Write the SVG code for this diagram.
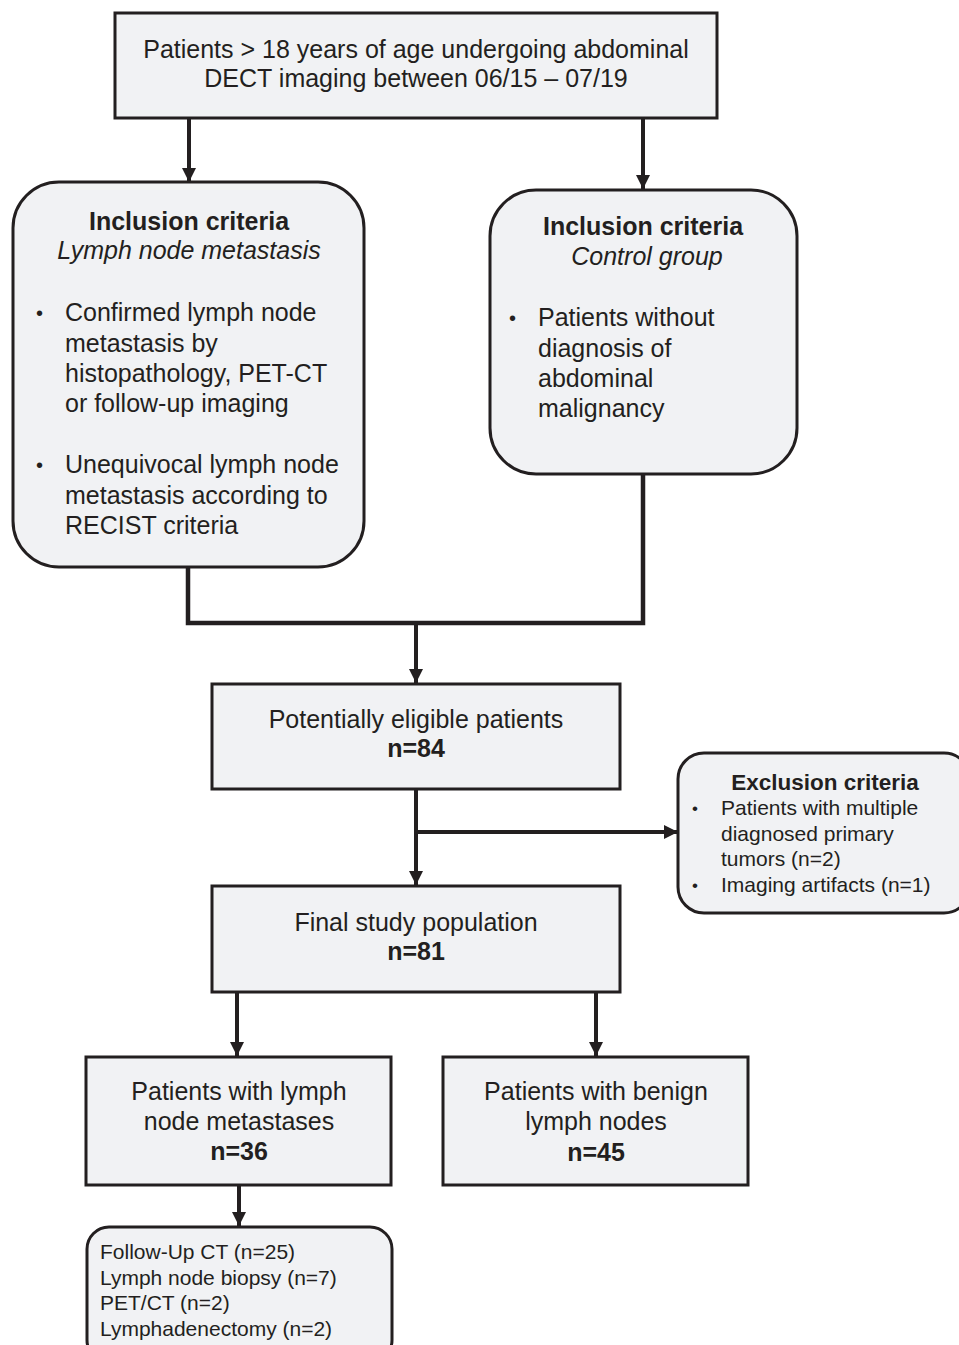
<svg xmlns="http://www.w3.org/2000/svg" width="959" height="1345" viewBox="0 0 959 1345">
<defs>
<marker id="ah" markerUnits="userSpaceOnUse" markerWidth="14" markerHeight="16" viewBox="0 0 14 16" refX="14" refY="8" orient="auto">
<path d="M0,1 L14,8 L0,15 z" fill="#231f20"/>
</marker>
<style>
.box{fill:#f1f2f4;stroke:#231f20;stroke-width:3}
.t{font-family:"Liberation Sans",Arial,sans-serif;font-size:25px;fill:#231f20}
.s{font-family:"Liberation Sans",Arial,sans-serif;font-size:21px;fill:#231f20}
.c{text-anchor:middle}
.b{font-weight:bold}
.i{font-style:italic}
.bu{font-size:20px}
.bs{font-size:17px}
.ln{fill:none;stroke:#231f20;stroke-width:4}
</style>
</defs>
<rect width="959" height="1345" fill="#ffffff"/>
<g id="connectors">
<line class="ln" x1="189" y1="118" x2="189" y2="182" marker-end="url(#ah)"/>
<line class="ln" x1="643" y1="118" x2="643" y2="189" marker-end="url(#ah)"/>
<polyline class="ln" points="188,567 188,623 643,623 643,474" style="stroke-width:4.5"/>
<line class="ln" x1="416" y1="623" x2="416" y2="683" marker-end="url(#ah)"/>
<line class="ln" x1="416" y1="789" x2="416" y2="885" marker-end="url(#ah)"/>
<line class="ln" x1="416" y1="832" x2="678" y2="832" marker-end="url(#ah)"/>
<line class="ln" x1="237" y1="992" x2="237" y2="1056" marker-end="url(#ah)"/>
<line class="ln" x1="596" y1="992" x2="596" y2="1056" marker-end="url(#ah)"/>
<line class="ln" x1="239" y1="1185" x2="239" y2="1226" marker-end="url(#ah)"/>
</g>
<g id="n-start">
<rect class="box" x="115" y="13" width="602" height="105"/>
<text class="t c" x="416" y="58">Patients &gt; 18 years of age undergoing abdominal</text>
<text class="t c" x="416" y="87">DECT imaging between 06/15 – 07/19</text>
</g>
<g id="n-incl-lnm">
<rect class="box" x="13" y="182" width="351" height="385" rx="46"/>
<text class="t c b" x="189" y="230">Inclusion criteria</text>
<text class="t c i" x="189" y="259">Lymph node metastasis</text>
<text class="t bu" x="36" y="320">•</text>
<text class="t" x="65" y="321">Confirmed lymph node</text>
<text class="t" x="65" y="352">metastasis by</text>
<text class="t" x="65" y="382">histopathology, PET-CT</text>
<text class="t" x="65" y="412">or follow-up imaging</text>
<text class="t bu" x="36" y="472">•</text>
<text class="t" x="65" y="473">Unequivocal lymph node</text>
<text class="t" x="65" y="504">metastasis according to</text>
<text class="t" x="65" y="534">RECIST criteria</text>
</g>
<g id="n-incl-ctrl">
<rect class="box" x="490" y="190" width="307" height="284" rx="46"/>
<text class="t c b" x="643" y="235">Inclusion criteria</text>
<text class="t c i" x="647" y="265">Control group</text>
<text class="t bu" x="509" y="325">•</text>
<text class="t" x="538" y="326">Patients without</text>
<text class="t" x="538" y="357">diagnosis of</text>
<text class="t" x="538" y="387">abdominal</text>
<text class="t" x="538" y="417">malignancy</text>
</g>
<g id="n-eligible">
<rect class="box" x="212" y="684" width="408" height="105"/>
<text class="t c" x="416" y="728">Potentially eligible patients</text>
<text class="t c b" x="416" y="757">n=84</text>
</g>
<g id="n-excl">
<rect class="box" x="678" y="753" width="292" height="160" rx="26"/>
<text class="t c b" x="825" y="790" style="font-size:22.5px">Exclusion criteria</text>
<text class="s bs" x="692" y="814">•</text>
<text class="s" x="721" y="815">Patients with multiple</text>
<text class="s" x="721" y="841">diagnosed primary</text>
<text class="s" x="721" y="866">tumors (n=2)</text>
<text class="s bs" x="692" y="891">•</text>
<text class="s" x="721" y="892">Imaging artifacts (n=1)</text>
</g>
<g id="n-final">
<rect class="box" x="212" y="886" width="408" height="106"/>
<text class="t c" x="416" y="931">Final study population</text>
<text class="t c b" x="416" y="960">n=81</text>
</g>
<g id="n-metastases">
<rect class="box" x="86" y="1057" width="305" height="128"/>
<text class="t c" x="239" y="1100">Patients with lymph</text>
<text class="t c" x="239" y="1130">node metastases</text>
<text class="t c b" x="239" y="1160">n=36</text>
</g>
<g id="n-benign">
<rect class="box" x="443" y="1057" width="305" height="128"/>
<text class="t c" x="596" y="1100">Patients with benign</text>
<text class="t c" x="596" y="1130">lymph nodes</text>
<text class="t c b" x="596" y="1161">n=45</text>
</g>
<g id="n-confirm">
<rect class="box" x="87" y="1227" width="305" height="135" rx="22"/>
<text class="s" x="100" y="1259">Follow-Up CT (n=25)</text>
<text class="s" x="100" y="1285">Lymph node biopsy (n=7)</text>
<text class="s" x="100" y="1310">PET/CT (n=2)</text>
<text class="s" x="100" y="1336">Lymphadenectomy (n=2)</text>
</g>
</svg>
